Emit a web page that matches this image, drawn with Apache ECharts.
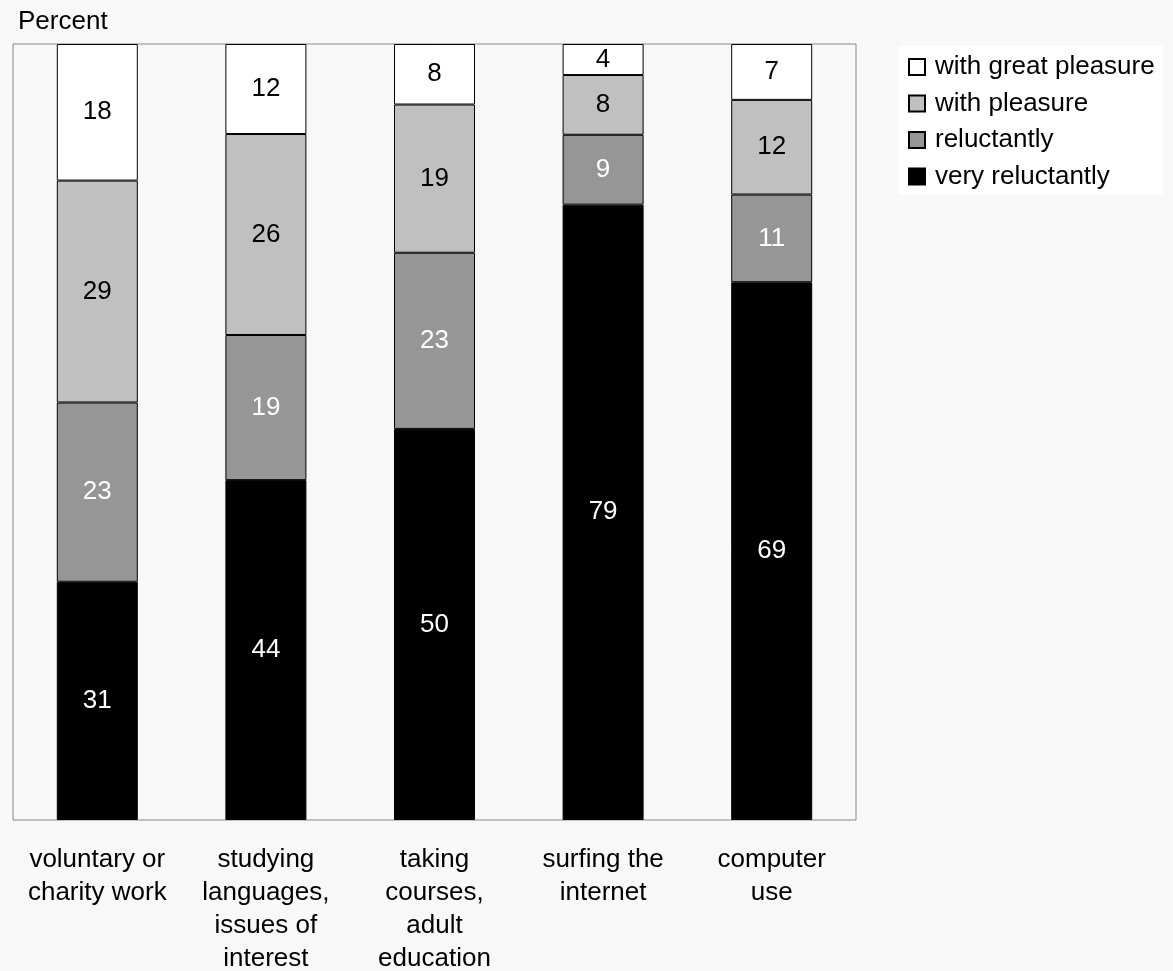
<!DOCTYPE html>
<html>
<head>
<meta charset="utf-8">
<script src="https://cdn.jsdelivr.net/npm/echarts@6/dist/echarts.min.js"></script>
<style>
html,body{margin:0;padding:0;background:#f8f8f8;}
#c{width:1173px;height:971px;}
</style>
</head>
<body>
<div id="c"></div>
<script>
var categories = ['voluntary or\ncharity work', 'studying\nlanguages,\nissues of\ninterest', 'taking\ncourses,\nadult\neducation', 'surfing the\ninternet', 'computer\nuse'];
var veryReluctantly = [30.7, 43.8, 50.4, 79.3, 69.3];
var reluctantly = [23.1, 18.7, 22.7, 9.0, 11.3];
var withPleasure = [28.6, 25.9, 19.1, 7.7, 12.2];
var withGreatPleasure = [17.6, 11.6, 7.8, 4.0, 7.2];
var legendOrder = ['with great pleasure', 'with pleasure', 'reluctantly', 'very reluctantly'];

var FONT = 'Liberation Sans, Arial, sans-serif';
function mk(name, data, color, labelColor) {
  return {
    name: name, type: 'bar', stack: 'all', data: data, barWidth: 81,
    itemStyle: {color: color, borderColor: '#000', borderWidth: 1},
    label: {show: true, position: 'inside', color: labelColor, fontSize: 26, fontFamily: FONT,
      formatter: function (p) { return Math.round(p.value); }},
    emphasis: {disabled: true}
  };
}
var chart = echarts.init(document.getElementById('c'));
chart.setOption({
  backgroundColor: '#f8f8f8',
  animation: false,
  title: {text: 'Percent', left: 13, top: 4, textStyle: {fontSize: 26, fontWeight: 'normal', color: '#000', fontFamily: FONT}},
  legend: {
    data: legendOrder, orient: 'vertical', left: 898, top: 46,
    backgroundColor: '#fff', padding: [8, 8, 5, 10],
    icon: 'rect', itemWidth: 16, itemHeight: 16, itemGap: 10.5,
    textStyle: {fontSize: 26, color: '#000', fontFamily: FONT, padding: [0, 0, 0, 5]},
    selectedMode: false
  },
  grid: {left: 13, right: 317, top: 44, bottom: 151, show: true, borderColor: '#888', borderWidth: 1, backgroundColor: 'transparent', containLabel: false, outerBoundsMode: 'none'},
  xAxis: {
    type: 'category', data: categories,
    axisLine: {show: false}, axisTick: {show: false},
    axisLabel: {fontSize: 26, lineHeight: 33, color: '#000', margin: 23, fontFamily: FONT, interval: 0}
  },
  yAxis: {type: 'value', min: 0, max: 100, show: false, splitLine: {show: false}},
  series: [
    mk('very reluctantly', veryReluctantly, '#000000', '#fff'),
    mk('reluctantly', reluctantly, '#969696', '#fff'),
    mk('with pleasure', withPleasure, '#c0c0c0', '#000'),
    mk('with great pleasure', withGreatPleasure, '#ffffff', '#000')
  ]
});
</script>
</body>
</html>
